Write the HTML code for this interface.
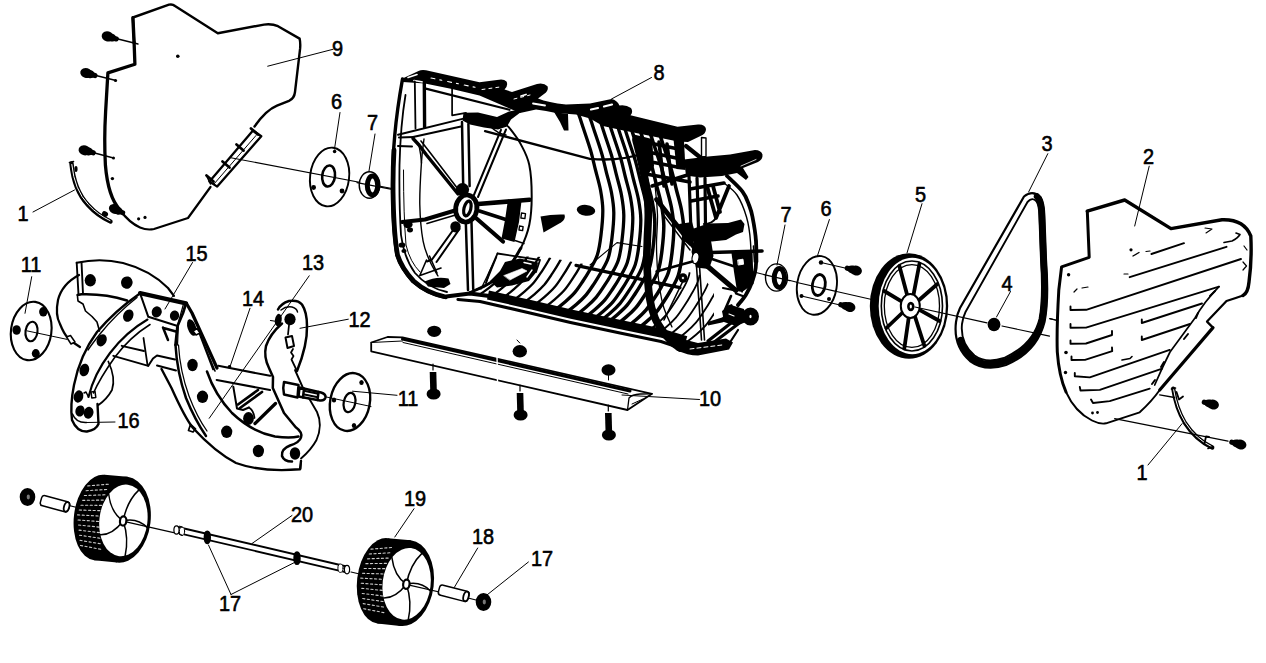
<!DOCTYPE html>
<html><head><meta charset="utf-8"><title>Parts diagram</title>
<style>
html,body{margin:0;padding:0;background:#fff;}
body{width:1266px;height:663px;overflow:hidden;}
svg{display:block;}
.t{font-family:"Liberation Sans",Arial,sans-serif;fill:#000;stroke:#000;stroke-width:0.6px;text-anchor:middle;}
</style></head><body>
<svg width="1266" height="663" viewBox="0 0 1266 663" stroke-linecap="round" stroke-linejoin="round">
<rect x="0" y="0" width="1266" height="663" fill="#fff"/>
<g id="p_left">
<path d="M134.1,42.4 L132.9,17.5 L169,4.7 Q172.5,3.8 175,6 L217.8,33.2 L264,24.6 Q272,23.6 278,26.2 L299.6,38.6 Q300.6,43 300.1,48.7 L295,92 Q294.3,98.5 289,100.8 L277,105.6 Q266,110 254.5,126.5" fill="none" stroke="#000" stroke-width="2.4" />
<path d="M132.9,17.8 L134.1,42.4" fill="none" stroke="#000" stroke-width="3.4" />
<path d="M210.5,187 L188,218 L154,229 Q147,230.5 140,227.5 Q129,222.5 120,210" fill="none" stroke="#000" stroke-width="2.2" />
<path d="M134.1,42.4 L134.9,64.2 L107.9,72.9 L105.6,112 Q104,140 105.4,165 Q108,197 120,210" fill="none" stroke="#000" stroke-width="3.3" />
<path d="M253,130.5 L261.3,136.2 L217.2,186.6 L209.5,181.5 Z" fill="none" stroke="#000" stroke-width="2.3" />
<path d="M256,135.5 L214,184" fill="none" stroke="#000" stroke-width="1.0" />
<line x1="251" y1="128.5" x2="258" y2="134.5" stroke="#000" stroke-width="2.8" />
<line x1="236.5" y1="144.5" x2="243.5" y2="150.5" stroke="#000" stroke-width="2.8" />
<line x1="222.5" y1="161.5" x2="229.5" y2="167.5" stroke="#000" stroke-width="2.8" />
<line x1="206.5" y1="175.5" x2="213.5" y2="181.5" stroke="#000" stroke-width="2.8" />
<line x1="206.5" y1="175.5" x2="210.5" y2="184" stroke="#000" stroke-width="1.6" />
<ellipse cx="107.6" cy="36.4" rx="6.0" ry="5.0" fill="#000" stroke="none" stroke-width="0" transform="rotate(16 107.6 36.4)"/>
<ellipse cx="111.44504678375327" cy="37.50254942326799" rx="4.75" ry="4.0" fill="#000" stroke="none" stroke-width="0" transform="rotate(16 111.44504678375327 37.50254942326799)"/>
<line x1="107.6" y1="36.4" x2="116.3" y2="38.9" stroke="#000" stroke-width="5.2"/>
<line x1="112" y1="37.5" x2="138" y2="44" stroke="#000" stroke-width="1.3" />
<ellipse cx="86.2" cy="73" rx="6.0" ry="5.0" fill="#000" stroke="none" stroke-width="0" transform="rotate(16 86.2 73)"/>
<ellipse cx="90.04504678375328" cy="74.102549423268" rx="4.75" ry="4.0" fill="#000" stroke="none" stroke-width="0" transform="rotate(16 90.04504678375328 74.102549423268)"/>
<line x1="86.2" y1="73.0" x2="94.9" y2="75.5" stroke="#000" stroke-width="5.2"/>
<line x1="90" y1="74" x2="116" y2="80.5" stroke="#000" stroke-width="1.3" />
<ellipse cx="115.5" cy="80.5" rx="1.6" ry="1.6" fill="#000" stroke="none" stroke-width="0"/>
<ellipse cx="84.5" cy="150.3" rx="6.0" ry="5.0" fill="#000" stroke="none" stroke-width="0" transform="rotate(16 84.5 150.3)"/>
<ellipse cx="88.34504678375328" cy="151.402549423268" rx="4.75" ry="4.0" fill="#000" stroke="none" stroke-width="0" transform="rotate(16 88.34504678375328 151.402549423268)"/>
<line x1="84.5" y1="150.3" x2="93.2" y2="152.8" stroke="#000" stroke-width="5.2"/>
<line x1="89" y1="151.5" x2="113.5" y2="158" stroke="#000" stroke-width="1.3" />
<ellipse cx="113.5" cy="158" rx="1.5" ry="1.5" fill="#000" stroke="none" stroke-width="0"/>
<ellipse cx="177.8" cy="56.2" rx="1.8" ry="1.8" fill="#000" stroke="none" stroke-width="0"/>
<ellipse cx="112.4" cy="178.6" rx="1.7" ry="1.7" fill="#000" stroke="none" stroke-width="0"/>
<ellipse cx="138.6" cy="218.8" rx="1.6" ry="1.6" fill="#000" stroke="none" stroke-width="0"/>
<ellipse cx="145" cy="217.4" rx="1.6" ry="1.6" fill="#000" stroke="none" stroke-width="0"/>
<ellipse cx="114.5" cy="209" rx="5.76" ry="4.8" fill="#000" stroke="none" stroke-width="0" transform="rotate(25 114.5 209)"/>
<ellipse cx="118.1252311481466" cy="210.6904730469628" rx="4.56" ry="3.84" fill="#000" stroke="none" stroke-width="0" transform="rotate(25 118.1252311481466 210.6904730469628)"/>
<line x1="114.5" y1="209.0" x2="122.7" y2="212.8" stroke="#000" stroke-width="5.0"/>
<path d="M71.5,163.5 Q74,190 88,205 Q98,216 110.5,221.5" fill="none" stroke="#000" stroke-width="4.4" />
<path d="M71.8,164.5 Q74.3,190 88.3,204.6 Q98,215 110,220.6" fill="none" stroke="#fff" stroke-width="1.0" />
<ellipse cx="105" cy="214" rx="3.2" ry="2.6" fill="#000" stroke="none" stroke-width="0" transform="rotate(30 105 214)"/>
<ellipse cx="76" cy="169" rx="1.6" ry="3" fill="#000" stroke="none" stroke-width="0"/>
<line x1="69.5" y1="162.5" x2="73.5" y2="161.5" stroke="#000" stroke-width="1.6" />
<line x1="33" y1="212" x2="74.5" y2="190" stroke="#000" stroke-width="1.0" />
<line x1="229.5" y1="157.5" x2="392" y2="188.5" stroke="#000" stroke-width="1.1" />
<ellipse cx="329.6" cy="177" rx="19.5" ry="29.5" fill="none" stroke="#000" stroke-width="1.9" transform="rotate(7 329.6 177)"/>
<ellipse cx="328.6" cy="176" rx="6.4" ry="10.6" fill="none" stroke="#000" stroke-width="2.6" transform="rotate(7 328.6 176)"/>
<ellipse cx="334.6" cy="151.5" rx="1.8" ry="1.8" fill="#000" stroke="none" stroke-width="0"/>
<ellipse cx="313.6" cy="187.5" rx="2.4" ry="2.4" fill="#000" stroke="none" stroke-width="0"/>
<ellipse cx="342" cy="191" rx="2.4" ry="2.4" fill="#000" stroke="none" stroke-width="0"/>
<ellipse cx="369.5" cy="185" rx="10.3" ry="13.2" fill="#fff" stroke="#000" stroke-width="1.4"/>
<ellipse cx="372.5" cy="185.5" rx="5.2" ry="9.4" fill="#fff" stroke="#000" stroke-width="5.0"/>
<line x1="357" y1="182.6" x2="392" y2="189.3" stroke="#000" stroke-width="1.2" />
<line x1="267.7" y1="66.2" x2="333" y2="49.3" stroke="#000" stroke-width="1.0" />
<line x1="340" y1="112.5" x2="334.5" y2="149" stroke="#000" stroke-width="1.0" />
<line x1="375" y1="134" x2="369" y2="171" stroke="#000" stroke-width="1.0" />
</g>
<g id="p_right">
<line x1="748" y1="270.5" x2="764" y2="274.5" stroke="#000" stroke-width="1.2" />
<line x1="790" y1="280.5" x2="798" y2="282.5" stroke="#000" stroke-width="1.2" />
<line x1="797" y1="282.5" x2="874" y2="300" stroke="#000" stroke-width="1.2" />
<line x1="1049.8" y1="318.7" x2="1057.5" y2="320.5" stroke="#000" stroke-width="1.2" />
<ellipse cx="776.5" cy="277.5" rx="11" ry="13.6" fill="#fff" stroke="#000" stroke-width="1.4"/>
<ellipse cx="779.4" cy="278" rx="5.2" ry="9.4" fill="#fff" stroke="#000" stroke-width="5.0"/>
<line x1="764" y1="274.6" x2="790" y2="280.6" stroke="#000" stroke-width="1.2" />
<ellipse cx="816.9" cy="285.4" rx="19.8" ry="29.6" fill="#fff" stroke="#000" stroke-width="1.9" transform="rotate(9 816.9 285.4)"/>
<ellipse cx="818.8" cy="285" rx="6.4" ry="10.6" fill="none" stroke="#000" stroke-width="2.8" transform="rotate(9 818.8 285)"/>
<ellipse cx="821" cy="262.5" rx="2.2" ry="2.2" fill="#000" stroke="none" stroke-width="0"/>
<ellipse cx="801.5" cy="296" rx="2.0" ry="2.0" fill="#000" stroke="none" stroke-width="0"/>
<ellipse cx="829" cy="299" rx="2.0" ry="2.0" fill="#000" stroke="none" stroke-width="0"/>
<line x1="797" y1="282.5" x2="836" y2="291.3" stroke="#000" stroke-width="1.2" />
<line x1="821" y1="262.5" x2="845" y2="268" stroke="#000" stroke-width="1.2" />
<line x1="801.5" y1="296" x2="840" y2="305" stroke="#000" stroke-width="1.2" />
<ellipse cx="856" cy="270.5" rx="6.0" ry="5.0" fill="#000" stroke="none" stroke-width="0" transform="rotate(195 856 270.5)"/>
<ellipse cx="852.1362966948437" cy="269.4647238195899" rx="4.75" ry="4.0" fill="#000" stroke="none" stroke-width="0" transform="rotate(195 852.1362966948437 269.4647238195899)"/>
<line x1="856.0" y1="270.5" x2="847.3" y2="268.2" stroke="#000" stroke-width="5.2"/>
<ellipse cx="849.5" cy="307" rx="6.0" ry="5.0" fill="#000" stroke="none" stroke-width="0" transform="rotate(195 849.5 307)"/>
<ellipse cx="845.6362966948437" cy="305.9647238195899" rx="4.75" ry="4.0" fill="#000" stroke="none" stroke-width="0" transform="rotate(195 845.6362966948437 305.9647238195899)"/>
<line x1="849.5" y1="307.0" x2="840.8" y2="304.7" stroke="#000" stroke-width="5.2"/>
<ellipse cx="909.0" cy="306" rx="39.2" ry="52.8" fill="#000" stroke="#000" stroke-width="0"/>
<ellipse cx="912.3" cy="306" rx="33.6" ry="48.2" fill="#fff" stroke="#000" stroke-width="0"/>
<ellipse cx="911.9" cy="306" rx="30.6" ry="45" fill="none" stroke="#000" stroke-width="1.6"/>
<ellipse cx="911.9" cy="306" rx="27.6" ry="41.4" fill="none" stroke="#000" stroke-width="1.3"/>
<line x1="918.6" y1="309.4" x2="939.6" y2="321.0" stroke="#000" stroke-width="3.8" />
<line x1="914.5" y1="315.1" x2="924.4" y2="345.9" stroke="#000" stroke-width="3.8" />
<line x1="909.0" y1="315.7" x2="904.3" y2="348.5" stroke="#000" stroke-width="3.8" />
<line x1="904.2" y1="311.0" x2="886.4" y2="328.0" stroke="#000" stroke-width="3.8" />
<line x1="903.6" y1="302.6" x2="884.2" y2="291.0" stroke="#000" stroke-width="3.8" />
<line x1="907.7" y1="296.9" x2="899.4" y2="266.1" stroke="#000" stroke-width="3.8" />
<line x1="913.2" y1="296.3" x2="919.5" y2="263.5" stroke="#000" stroke-width="3.8" />
<line x1="918.0" y1="301.0" x2="937.4" y2="284.0" stroke="#000" stroke-width="3.8" />
<ellipse cx="910.3" cy="306" rx="9.5" ry="12" fill="#fff" stroke="#000" stroke-width="2.0"/>
<ellipse cx="910.8" cy="306.5" rx="2.4" ry="3.4" fill="#fff" stroke="#000" stroke-width="2.6"/>
<path d="M1024,196.5 Q1032.5,189.5 1040.5,197 Q1044,203 1044.3,215 L1046,260 Q1049,300 1044.5,322 Q1037,352 1006,365 Q985,372 970,361 Q953,346 956,322 Q957,314 960,308 Z" fill="#fff" stroke="#000" stroke-width="2.2" />
<path d="M1027.5,202 Q1032.5,196.5 1036.5,201.5 Q1039,205 1039.3,215 L1041,260 Q1043.5,298 1039.5,319 Q1033,345 1004,358 Q986,364 974.5,355.5 Q960,343 962,324 Q963,317 965.5,312 Z" fill="#fff" stroke="#000" stroke-width="1.9" />
<path d="M1037,196.5 Q1041.5,201 1041.8,215 L1043.5,260 Q1046.3,299 1042,320.5 Q1035,348.5 1005,361.5 Q985.5,368 972.5,358.5 Q964,351 960.5,340" fill="none" stroke="#000" stroke-width="6.4" />
<line x1="915" y1="307" x2="987" y2="322.8" stroke="#000" stroke-width="1.2" />
<line x1="1002" y1="326" x2="1049.5" y2="336.2" stroke="#000" stroke-width="1.2" />
<ellipse cx="994" cy="324.5" rx="6.4" ry="6.8" fill="#000" stroke="none" stroke-width="0"/>
<line x1="1049.8" y1="318.7" x2="1057.5" y2="320.5" stroke="#000" stroke-width="1.2" />
<path d="M1087.3,211.2 L1124.7,200 L1171,228.6 L1222,219.8 Q1244,219 1250.8,236 Q1252,260 1249,282 Q1248,293 1243,295.5" fill="none" stroke="#000" stroke-width="3.4" />
<path d="M1087.3,211.2 L1089.2,257.3 L1061.6,266.8 L1058.8,290 Q1056.5,330 1057.3,352 Q1059,376 1066,392" fill="none" stroke="#000" stroke-width="3.0" />
<path d="M1066,392 Q1075,412 1092,420.5 Q1100,424.5 1106,423.3 L1139.7,412.3 Q1152,401 1159.7,390" fill="none" stroke="#000" stroke-width="1.9" />
<path d="M1243,295.5 Q1236,298 1226.5,301 L1207,321.6 L1213,327.6" fill="none" stroke="#000" stroke-width="2.2" />
<path d="M1213,327.6 L1159.7,390" fill="none" stroke="#000" stroke-width="3.2" />
<path d="M1154.7,385 Q1162,368 1170,352 L1195,318 Q1204,302 1219,286.6" fill="none" stroke="#000" stroke-width="1.7" />
<path d="M1070.5,306.5 L1070.5,310.0 L1086.2,309.8 L1241.0,259.0" fill="none" stroke="#000" stroke-width="1.9" />
<path d="M1070.5,324.0 L1070.5,327.8 L1086.0,327.6 L1219.0,286.6" fill="none" stroke="#000" stroke-width="1.9" />
<path d="M1070.5,340.5 L1070.5,343.8 L1086.0,343.5 L1112.0,335.0 L1112.0,331.0" fill="none" stroke="#000" stroke-width="1.9" />
<path d="M1071.5,356.5 L1071.5,360.0 L1085.0,359.9 L1112.2,351.2 L1112.0,347.5" fill="none" stroke="#000" stroke-width="1.9" />
<path d="M1074.8,373.0 L1074.8,376.3 L1089.8,377.4 L1169.7,349.9" fill="none" stroke="#000" stroke-width="1.9" />
<path d="M1079.8,387.0 L1080.5,390.5 L1099.8,389.9 L1162.2,368.6" fill="none" stroke="#000" stroke-width="1.9" />
<path d="M1091.0,399.5 L1093.0,403.0 L1109.7,401.1 L1149.7,388.6" fill="none" stroke="#000" stroke-width="1.9" />
<path d="M1141.8,319.5 L1141.8,323.0 L1202.0,303.5" fill="none" stroke="#000" stroke-width="1.9" />
<path d="M1141.8,336.5 L1141.8,340.0 L1190.0,324.0" fill="none" stroke="#000" stroke-width="1.9" />
<path d="M1129.7,277.2 L1226.5,246.8" fill="none" stroke="#000" stroke-width="1.9" />
<path d="M1151.4,254.0 L1184.0,243.2" fill="none" stroke="#000" stroke-width="1.9" />
<path d="M1224,242.5 L1232,241 Q1238,238 1240,234.5 L1236,233" fill="none" stroke="#000" stroke-width="1.6" />
<ellipse cx="1131" cy="249.8" rx="1.6" ry="1.6" fill="#000" stroke="none" stroke-width="0"/>
<ellipse cx="1068.6" cy="274.8" rx="1.7" ry="1.7" fill="#000" stroke="none" stroke-width="0"/>
<ellipse cx="1066" cy="352.5" rx="1.8" ry="1.8" fill="#000" stroke="none" stroke-width="0"/>
<ellipse cx="1065.5" cy="372.5" rx="1.7" ry="1.7" fill="#000" stroke="none" stroke-width="0"/>
<path d="M1133,256 L1139,252.5" fill="none" stroke="#000" stroke-width="1.4" />
<path d="M1146,251.5 L1150,251" fill="none" stroke="#000" stroke-width="1.2" />
<path d="M1124,274 L1128,274" fill="none" stroke="#000" stroke-width="1.2" />
<path d="M1205,228 L1212,229 L1206,233" fill="none" stroke="#000" stroke-width="1.1" />
<path d="M1244,246 L1247,250 M1243,262 L1246.5,266 L1243,270" fill="none" stroke="#000" stroke-width="1.2" />
<path d="M1074,292 L1077,289 M1082,288 L1088,287" fill="none" stroke="#000" stroke-width="1.2" />
<ellipse cx="1092.5" cy="413" rx="1.4" ry="1.4" fill="#000" stroke="none" stroke-width="0"/>
<ellipse cx="1097.5" cy="412.5" rx="1.4" ry="1.4" fill="#000" stroke="none" stroke-width="0"/>
<path d="M1122,360 L1130,358.5 L1132,356.5" fill="none" stroke="#000" stroke-width="1.6" />
<path d="M1210,296 L1215,291 M1196,318 L1198,313 M1184,339 L1188,334 M1161,367 L1164,362 M1152,384 L1155,380" fill="none" stroke="#000" stroke-width="2.0" />
<path d="M1173.2,388.5 Q1176,408 1185,423 Q1196,440 1212.3,447.5" fill="none" stroke="#000" stroke-width="4.2" />
<path d="M1173.6,389.5 Q1176.4,408 1185.3,422.6 Q1196,439.3 1211.6,446.6" fill="none" stroke="#fff" stroke-width="1.0" />
<line x1="1171.5" y1="389" x2="1175.5" y2="388" stroke="#000" stroke-width="1.6" />
<line x1="1208" y1="448.5" x2="1213" y2="446.5" stroke="#000" stroke-width="1.6" />
<path d="M1176.5,392 L1179,399.5 L1183,396.5" fill="none" stroke="#000" stroke-width="1.8" />
<path d="M1204.5,443.5 L1206,436.5 L1209,437" fill="none" stroke="#000" stroke-width="1.8" />
<ellipse cx="1213" cy="404.5" rx="6.0" ry="5.0" fill="#000" stroke="none" stroke-width="0" transform="rotate(195 1213 404.5)"/>
<ellipse cx="1209.1362966948436" cy="403.4647238195899" rx="4.75" ry="4.0" fill="#000" stroke="none" stroke-width="0" transform="rotate(195 1209.1362966948436 403.4647238195899)"/>
<line x1="1213.0" y1="404.5" x2="1204.3" y2="402.2" stroke="#000" stroke-width="5.2"/>
<ellipse cx="1240.5" cy="444.5" rx="6.0" ry="5.0" fill="#000" stroke="none" stroke-width="0" transform="rotate(195 1240.5 444.5)"/>
<ellipse cx="1236.6362966948436" cy="443.4647238195899" rx="4.75" ry="4.0" fill="#000" stroke="none" stroke-width="0" transform="rotate(195 1236.6362966948436 443.4647238195899)"/>
<line x1="1240.5" y1="444.5" x2="1231.8" y2="442.2" stroke="#000" stroke-width="5.2"/>
<line x1="1159.7" y1="394.8" x2="1174.6" y2="397.5" stroke="#000" stroke-width="1.3" />
<line x1="1114.7" y1="418.6" x2="1228" y2="441.2" stroke="#000" stroke-width="1.3" />
<line x1="785" y1="225" x2="777" y2="265" stroke="#000" stroke-width="1.0" />
<line x1="829.4" y1="219.5" x2="817.4" y2="256" stroke="#000" stroke-width="1.0" />
<line x1="922" y1="203.7" x2="907" y2="253" stroke="#000" stroke-width="1.0" />
<line x1="1047.8" y1="153.7" x2="1028.6" y2="192" stroke="#000" stroke-width="1.0" />
<line x1="1149.2" y1="166.2" x2="1134.7" y2="226" stroke="#000" stroke-width="1.0" />
<line x1="1010.5" y1="291.5" x2="996.5" y2="317" stroke="#000" stroke-width="1.0" />
<line x1="1148" y1="465" x2="1182.1" y2="423.6" stroke="#000" stroke-width="1.0" />
</g>
<g id="p_auger">
<ellipse cx="31.2" cy="331" rx="20.2" ry="29.4" fill="#fff" stroke="#000" stroke-width="2.12" transform="rotate(8 31.2 331)"/>
<ellipse cx="31.5" cy="331.5" rx="6.0" ry="9.8" fill="none" stroke="#000" stroke-width="2.12" transform="rotate(8 31.5 331.5)"/>
<ellipse cx="43.3" cy="311.8" rx="4.2" ry="4.8" fill="#000" stroke="none" stroke-width="0"/>
<ellipse cx="16.6" cy="330" rx="4.2" ry="4.8" fill="#000" stroke="none" stroke-width="0"/>
<ellipse cx="35.8" cy="353.5" rx="4" ry="4.4" fill="#000" stroke="none" stroke-width="0"/>
<line x1="26.7" y1="330.8" x2="66.7" y2="339.3" stroke="#000" stroke-width="1.0" />
<ellipse cx="350" cy="402" rx="19.8" ry="29.2" fill="#fff" stroke="#000" stroke-width="2.38" transform="rotate(11 350 402)"/>
<ellipse cx="349.5" cy="402.5" rx="5.8" ry="9.8" fill="none" stroke="#000" stroke-width="2.25" transform="rotate(11 349.5 402.5)"/>
<ellipse cx="361.5" cy="382.5" rx="2.2" ry="2.6" fill="#000" stroke="none" stroke-width="0"/>
<ellipse cx="334" cy="400" rx="2.2" ry="2.6" fill="#000" stroke="none" stroke-width="0"/>
<ellipse cx="354" cy="425.5" rx="2.2" ry="2.6" fill="#000" stroke="none" stroke-width="0"/>
<line x1="325" y1="396.7" x2="371" y2="406.5" stroke="#000" stroke-width="1.0" />
<path d="M79,275 Q62,284 58,300 Q55,315 60,324 Q64,334 68,338 L74,343 L80,347" fill="none" stroke="#000" stroke-width="2.25" />
<path d="M77.5,296.5 L78,301 L83,304 L85.5,311 L92,316.5 L97,322 L99.5,331" fill="none" stroke="#000" stroke-width="1.62" />
<path d="M66.5,337 l4,-1.5 l4.5,6.5 l-4,2 z" fill="#fff" stroke="#000" stroke-width="1.5" />
<path d="M76.7,262.8 Q100,257.5 123,263 Q150,270 168,288 L174,296" fill="none" stroke="#000" stroke-width="2.12" />
<path d="M76.7,262.8 L78.5,294.5 M81.5,262 L83,294" fill="none" stroke="#000" stroke-width="1.88" />
<path d="M77.5,295 L81.5,294.3 Q105,293.5 127,300.5" fill="none" stroke="#000" stroke-width="2.5" />
<ellipse cx="90.3" cy="280.3" rx="5.6" ry="6.2" fill="#000" stroke="none" stroke-width="0"/>
<ellipse cx="126.8" cy="282.6" rx="5.8" ry="6.2" fill="#000" stroke="none" stroke-width="0" transform="rotate(15 126.8 282.6)"/>
<path d="M140,293.2 L186,303.3" fill="none" stroke="#000" stroke-width="4.25" />
<path d="M140,293.2 L148.3,316.8 L176,325.5" fill="none" stroke="#000" stroke-width="2.0" />
<path d="M186,303.3 L183,313 L177.5,326 L175.5,345" fill="none" stroke="#000" stroke-width="2.75" />
<path d="M183.5,304 L178.5,322 L177.5,345" fill="none" stroke="#000" stroke-width="1.25" />
<ellipse cx="156.7" cy="311.9" rx="5" ry="5.6" fill="#000" stroke="none" stroke-width="0" transform="rotate(20 156.7 311.9)"/>
<ellipse cx="174.5" cy="315.6" rx="4.6" ry="5.2" fill="#000" stroke="none" stroke-width="0" transform="rotate(10 174.5 315.6)"/>
<path d="M163,327.5 L168,340 M163.5,328 L176,331.5" fill="none" stroke="#000" stroke-width="2.5" />
<path d="M138.5,294.5 Q116,310 97,332 Q80,355 74,385 Q70,405 72,420 Q77,432 87,431.5 Q96,430 98.5,424 L97.5,404" fill="none" stroke="#000" stroke-width="2.38" />
<path d="M137,297.5 Q116,314 100,334 Q92,344 88,350" fill="none" stroke="#000" stroke-width="1.38" />
<path d="M147.5,319.5 Q126,332 110,353 Q94,374 88.5,397" fill="none" stroke="#000" stroke-width="2.12" />
<path d="M150,324.5 Q130,337 115,357 Q100,378 93.5,393" fill="none" stroke="#000" stroke-width="1.62" />
<path d="M88.5,397 L86,392 L84,393" fill="none" stroke="#000" stroke-width="1.5" />
<path d="M91,392 l4,-0.6 l0.8,6 l-4,0.6z" fill="none" stroke="#000" stroke-width="1.5" />
<path d="M72.5,414 Q76,423 86.5,422.5" fill="none" stroke="#000" stroke-width="1.5" />
<ellipse cx="128.3" cy="315.6" rx="5" ry="6.4" fill="#000" stroke="none" stroke-width="0" transform="rotate(25 128.3 315.6)"/>
<ellipse cx="101.7" cy="340.3" rx="4.8" ry="6.4" fill="#000" stroke="none" stroke-width="0" transform="rotate(25 101.7 340.3)"/>
<ellipse cx="84.3" cy="370" rx="4.8" ry="6.4" fill="#000" stroke="none" stroke-width="0" transform="rotate(15 84.3 370)"/>
<ellipse cx="78.5" cy="396.5" rx="4.8" ry="6.2" fill="#000" stroke="none" stroke-width="0" transform="rotate(15 78.5 396.5)"/>
<ellipse cx="80" cy="411" rx="4.6" ry="5.6" fill="#000" stroke="none" stroke-width="0" transform="rotate(15 80 411)"/>
<ellipse cx="88.6" cy="412.8" rx="4.8" ry="6" fill="#000" stroke="none" stroke-width="0" transform="rotate(15 88.6 412.8)"/>
<path d="M108.3,361.5 Q116,378 112,390 Q107,399 98.5,405" fill="none" stroke="#000" stroke-width="1.75" />
<path d="M121.7,345.8 L144,351 M113.3,355.8 L148.3,365.8" fill="none" stroke="#000" stroke-width="1.88" />
<path d="M143.5,338 L147.5,365" fill="none" stroke="#000" stroke-width="1.75" />
<path d="M148.3,365.8 L153,358.5 L157,355.5 L175,359.5 M157,365.5 L176,370.5" fill="none" stroke="#000" stroke-width="2.0" />
<path d="M186.5,303.5 L192,313 L217,368" fill="none" stroke="#000" stroke-width="3.25" />
<path d="M175.5,345 Q177,372 186,398 Q195,420 206,436" fill="none" stroke="#000" stroke-width="2.5" />
<path d="M178.5,345 Q180,371 189,396 Q197,417 207,431" fill="none" stroke="#000" stroke-width="1.25" />
<path d="M161.5,369 L171.5,388 Q185,418 193,428 Q215,452 236,463 Q262,472.5 300,469.3 L301,461" fill="none" stroke="#000" stroke-width="2.38" />
<path d="M190.5,424.5 l5,4.5 l-2.5,3 l-4.5,-1.5z" fill="none" stroke="#000" stroke-width="1.75" />
<path d="M198,330 L213,369.5 M201,337 L215,371" fill="none" stroke="#000" stroke-width="1.62" />
<path d="M207,371.5 Q215,395 232,413 Q252,432 275,436.5 Q290,438.5 298.5,436.5" fill="none" stroke="#000" stroke-width="2.5" />
<ellipse cx="191.8" cy="327.5" rx="4.2" ry="8.6" fill="#000" stroke="none" stroke-width="0" transform="rotate(-18 191.8 327.5)"/>
<path d="M193,331 l4,-2.5 l3,4.5 l-4,2z" fill="#fff" stroke="#000" stroke-width="1.5" />
<ellipse cx="192.5" cy="365" rx="5.2" ry="6.2" fill="#000" stroke="none" stroke-width="0"/>
<ellipse cx="202.5" cy="396.8" rx="5.6" ry="6.2" fill="#000" stroke="none" stroke-width="0"/>
<ellipse cx="226.7" cy="431.8" rx="5.6" ry="6.2" fill="#000" stroke="none" stroke-width="0"/>
<ellipse cx="258.4" cy="451" rx="5.6" ry="6.2" fill="#000" stroke="none" stroke-width="0"/>
<ellipse cx="295" cy="453.5" rx="5.2" ry="6.2" fill="#000" stroke="none" stroke-width="0"/>
<ellipse cx="248.5" cy="418.5" rx="5.4" ry="6.4" fill="#000" stroke="none" stroke-width="0"/>
<path d="M218.3,365.8 L270,375.8 M216.7,380 L270,390" fill="none" stroke="#000" stroke-width="2.12" />
<ellipse cx="229.5" cy="366.8" rx="1.8" ry="1.8" fill="#000" stroke="none" stroke-width="0"/>
<path d="M233.3,386.7 L237,408.5 L243,410 L249,407.5" fill="none" stroke="#000" stroke-width="2.0" />
<path d="M238,404.5 L258,390 M240,408 L262,392" fill="none" stroke="#000" stroke-width="2.75" />
<path d="M249,407.5 Q254,411 254.5,418" fill="none" stroke="#000" stroke-width="1.75" />
<path d="M255,423.5 L275.5,403.5" fill="none" stroke="#000" stroke-width="3.25" />
<path d="M278,309.5 Q281,303.5 289,301 Q298,299.5 302,304.5 Q307,312 307,326 Q307.5,345 297,371" fill="none" stroke="#000" stroke-width="2.5" />
<path d="M281,310 Q286,306 292,307 Q297,308.5 297.5,312" fill="none" stroke="#000" stroke-width="1.5" />
<path d="M282,323.5 Q270,334 266,346 Q263.5,357 269,368 L273,377 L272.8,388 L284,413 L295.5,427 Q303,432.5 301,437.5 Q299.5,442.5 290,445.5 Q281,449 282,456 Q284,461.5 292,461.5" fill="none" stroke="#000" stroke-width="2.5" />
<path d="M295,370 L303,388 L317,412 Q323,425 316.5,440 Q311,450 301,458.5" fill="none" stroke="#000" stroke-width="1.88" />
<path d="M289,325 L288,334.5 M293,349 L291,352.5 L293.5,356 L291.5,359.5 L296.5,370" fill="none" stroke="#000" stroke-width="1.75" />
<path d="M285.5,337.5 l6.5,-1.5 l2,10 l-6.5,2z" fill="#fff" stroke="#000" stroke-width="2.0" />
<ellipse cx="278.3" cy="320" rx="3.4" ry="6.2" fill="#000" stroke="none" stroke-width="0" transform="rotate(10 278.3 320)"/>
<ellipse cx="290" cy="319.3" rx="5.6" ry="6" fill="#000" stroke="none" stroke-width="0"/>
<line x1="270.5" y1="320.5" x2="277" y2="321.5" stroke="#000" stroke-width="1.2" />
<path d="M301,461 L300.5,469" fill="none" stroke="#000" stroke-width="1.75" />
<path d="M284,382 Q282.5,388 284,394.5 L297.5,397.5 L298.5,385 Z" fill="#fff" stroke="#000" stroke-width="2.5" />
<path d="M299.5,387.5 L321,392.5 Q326,394 325.5,397.5 Q324.5,401 320,400.5 L298.5,396.5 Z" fill="#fff" stroke="#000" stroke-width="2.5" />
<path d="M304,388.5 L303,397.5 M318.5,392 L317.5,400" fill="none" stroke="#000" stroke-width="2.5" />
<path d="M305,391 L317,393.6 M304.5,394.5 L316.5,397" fill="none" stroke="#000" stroke-width="2.0" />
<line x1="31.7" y1="276.7" x2="25" y2="313.3" stroke="#000" stroke-width="1.0" />
<line x1="192.5" y1="262.5" x2="165" y2="309" stroke="#000" stroke-width="1.0" />
<line x1="309.2" y1="275.8" x2="209.2" y2="418.3" stroke="#000" stroke-width="1.0" />
<line x1="250" y1="308.3" x2="230" y2="366.7" stroke="#000" stroke-width="1.0" />
<line x1="300" y1="328.3" x2="348.3" y2="319.2" stroke="#000" stroke-width="1.0" />
<line x1="86.7" y1="422.5" x2="115" y2="422" stroke="#000" stroke-width="1.0" />
</g>
<g id="p_bar">
<path d="M371.2,342.5 L387.5,337 L402.5,337.3 L652,393.8 L627.5,410 L371.2,351.3 Z" fill="#fff" stroke="#000" stroke-width="1.8" />
<path d="M402.5,339 L630,391" fill="none" stroke="#000" stroke-width="3.0" />
<path d="M403,342.5 L628,394" fill="none" stroke="#000" stroke-width="1.0" />
<path d="M371.2,342.5 L402.5,341" fill="none" stroke="#000" stroke-width="1.0" />
<path d="M627.5,410 L629,398 Q632,394.5 640,394 L652,393.8" fill="none" stroke="#000" stroke-width="1.3" />
<path d="M632,404 L643,399" fill="none" stroke="#000" stroke-width="1.0" />
<path d="M497,355 L497.5,383" fill="none" stroke="#fff" stroke-width="1.4" />
<ellipse cx="434.2" cy="331.3" rx="7" ry="5.6" fill="#000" stroke="none" stroke-width="0"/>
<ellipse cx="519.8" cy="351.3" rx="7.2" ry="6.2" fill="#000" stroke="none" stroke-width="0"/>
<ellipse cx="608.5" cy="370" rx="7" ry="5.8" fill="#000" stroke="none" stroke-width="0"/>
<line x1="608.5" y1="372" x2="608.5" y2="380" stroke="#000" stroke-width="1.0" />
<line x1="519.8" y1="343" x2="517" y2="340" stroke="#000" stroke-width="1.0" />
<line x1="433" y1="364" x2="433" y2="370" stroke="#000" stroke-width="1.2" />
<line x1="433" y1="372" x2="433.5" y2="390" stroke="#000" stroke-width="6.6" stroke-linecap="butt"/>
<ellipse cx="433.6" cy="394" rx="7.0" ry="5.6" fill="#000" stroke="none" stroke-width="0"/>
<line x1="520" y1="385" x2="520" y2="391" stroke="#000" stroke-width="1.2" />
<line x1="520" y1="393" x2="520.5" y2="411" stroke="#000" stroke-width="6.6" stroke-linecap="butt"/>
<ellipse cx="520.6" cy="415" rx="7.0" ry="5.6" fill="#000" stroke="none" stroke-width="0"/>
<line x1="608.3" y1="405" x2="608.3" y2="411" stroke="#000" stroke-width="1.2" />
<line x1="608.3" y1="413" x2="608.8" y2="431" stroke="#000" stroke-width="6.6" stroke-linecap="butt"/>
<ellipse cx="608.9" cy="435" rx="7.0" ry="5.6" fill="#000" stroke="none" stroke-width="0"/>
<line x1="622" y1="395" x2="699.5" y2="399.5" stroke="#000" stroke-width="1.0" />
<line x1="352.5" y1="391.2" x2="397" y2="395.3" stroke="#000" stroke-width="1.0" />
</g>
<g id="p_wheels">
<line x1="67" y1="505" x2="99" y2="513" stroke="#000" stroke-width="1.2" />
<line x1="351" y1="572" x2="381" y2="579" stroke="#000" stroke-width="1.2" />
<line x1="468" y1="598" x2="478" y2="600.5" stroke="#000" stroke-width="1.2" />
<ellipse cx="27.5" cy="497" rx="6" ry="7.2" fill="#000" stroke="#000" stroke-width="3.6"/>
<ellipse cx="28.3" cy="497" rx="1.3" ry="2" fill="#000" stroke="none" stroke-width="0"/>
<ellipse cx="28.3" cy="497" rx="1.6" ry="2.4" fill="#777"/>
<g transform="translate(41,500) rotate(15.0)"><rect x="0" y="-5.25" width="29.0" height="10.5" rx="3" fill="#fff" stroke="#000" stroke-width="1.5"/><ellipse cx="26.5" cy="0" rx="2.6" ry="4.95" fill="#fff" stroke="#000" stroke-width="1.8"/></g>
<g transform="rotate(7 123.6 521.5)">
<ellipse cx="99.1" cy="520.5" rx="25.5" ry="43" fill="#000" stroke="#000" stroke-width="0"/>
<ellipse cx="122.0" cy="519.9" rx="28.4" ry="43.2" fill="#000" stroke="#000" stroke-width="0"/>
<path d="M99.1,477.5 L122.0,476.7 L122.0,563.1 L99.1,563.5 Z" fill="#000" stroke="none" />
<ellipse cx="123.3" cy="520.5" rx="24.0" ry="36.0" fill="#fff" stroke="#000" stroke-width="0"/>
<line x1="83.7" y1="490.5" x2="105.7" y2="486.0" stroke="#fff" stroke-width="1.1" stroke-dasharray="2.2 2.4" opacity="0.8"/>
<line x1="82.6" y1="495.5" x2="104.6" y2="491.5" stroke="#fff" stroke-width="1.1" stroke-dasharray="2.2 2.4" opacity="0.8"/>
<line x1="81.5" y1="500.5" x2="103.5" y2="497.0" stroke="#fff" stroke-width="1.1" stroke-dasharray="2.2 2.4" opacity="0.8"/>
<line x1="80.4" y1="505.5" x2="102.4" y2="502.5" stroke="#fff" stroke-width="1.1" stroke-dasharray="2.2 2.4" opacity="0.8"/>
<line x1="79.3" y1="510.5" x2="101.3" y2="508.0" stroke="#fff" stroke-width="1.1" stroke-dasharray="2.2 2.4" opacity="0.8"/>
<line x1="78.2" y1="515.5" x2="100.2" y2="513.5" stroke="#fff" stroke-width="1.1" stroke-dasharray="2.2 2.4" opacity="0.8"/>
<line x1="77.1" y1="520.5" x2="99.1" y2="519.0" stroke="#fff" stroke-width="1.1" stroke-dasharray="2.2 2.4" opacity="0.8"/>
<line x1="78.2" y1="525.5" x2="100.2" y2="524.5" stroke="#fff" stroke-width="1.1" stroke-dasharray="2.2 2.4" opacity="0.8"/>
<line x1="79.3" y1="530.5" x2="101.3" y2="530.0" stroke="#fff" stroke-width="1.1" stroke-dasharray="2.2 2.4" opacity="0.8"/>
<line x1="80.4" y1="535.5" x2="102.4" y2="535.5" stroke="#fff" stroke-width="1.1" stroke-dasharray="2.2 2.4" opacity="0.8"/>
<line x1="81.5" y1="540.5" x2="103.5" y2="541.0" stroke="#fff" stroke-width="1.1" stroke-dasharray="2.2 2.4" opacity="0.8"/>
<line x1="82.6" y1="545.5" x2="104.6" y2="546.5" stroke="#fff" stroke-width="1.1" stroke-dasharray="2.2 2.4" opacity="0.8"/>
<line x1="83.7" y1="550.5" x2="105.7" y2="552.0" stroke="#fff" stroke-width="1.1" stroke-dasharray="2.2 2.4" opacity="0.8"/>
<path d="M123.1,521.0 Q124.3,501.1 135.0,488.2" fill="none" stroke="#000" stroke-width="1.5" />
<path d="M123.1,521.0 Q136.6,515.8 148.2,524.9" fill="none" stroke="#000" stroke-width="1.5" />
<path d="M123.1,521.0 Q131.1,537.4 129.3,555.8" fill="none" stroke="#000" stroke-width="1.5" />
<path d="M123.1,521.0 Q114.1,536.3 102.1,537.5" fill="none" stroke="#000" stroke-width="1.5" />
<path d="M123.1,521.0 Q109.9,514.2 105.5,496.3" fill="none" stroke="#000" stroke-width="1.5" />
<ellipse cx="123.1" cy="521.0" rx="3.2" ry="4.6" fill="#fff" stroke="#000" stroke-width="2.2"/>
</g>
<line x1="126.1" y1="521.8" x2="173.6" y2="532.7" stroke="#000" stroke-width="1.2" />
<path d="M176,529.5 L347,569.5" fill="none" stroke="#000" stroke-width="7.6" stroke-linecap="butt"/>
<path d="M177,529.8 L346,569.3" fill="none" stroke="#fff" stroke-width="3.8" stroke-linecap="butt"/>
<ellipse cx="176.5" cy="530" rx="2.6" ry="4.2" fill="#fff" stroke="#000" stroke-width="1.2"/>
<ellipse cx="182" cy="531.3" rx="2.6" ry="4.2" fill="#fff" stroke="#000" stroke-width="1.0"/>
<ellipse cx="347" cy="569.6" rx="2.6" ry="4.2" fill="#fff" stroke="#000" stroke-width="1.2"/>
<ellipse cx="340.5" cy="568.2" rx="2.6" ry="4.2" fill="#fff" stroke="#000" stroke-width="1.0"/>
<path d="M179.5,526.2 L182,526.8 M179.5,534.5 L182,535" fill="none" stroke="#000" stroke-width="1.0" />
<ellipse cx="207.3" cy="537.3" rx="2.4" ry="5.6" fill="#000" stroke="#000" stroke-width="2.6"/>
<ellipse cx="297" cy="558.2" rx="2.4" ry="5.6" fill="#000" stroke="#000" stroke-width="2.6"/>
<g transform="rotate(7 406.8 584.8)">
<ellipse cx="382.3" cy="583.8" rx="25.5" ry="43" fill="#000" stroke="#000" stroke-width="0"/>
<ellipse cx="405.2" cy="583.1999999999999" rx="28.4" ry="43.2" fill="#000" stroke="#000" stroke-width="0"/>
<path d="M382.3,540.8 L405.2,539.9999999999999 L405.2,626.4 L382.3,626.8 Z" fill="#000" stroke="none" />
<ellipse cx="406.5" cy="583.8" rx="24.0" ry="36.0" fill="#fff" stroke="#000" stroke-width="0"/>
<line x1="366.9" y1="553.8" x2="388.9" y2="549.3" stroke="#fff" stroke-width="1.1" stroke-dasharray="2.2 2.4" opacity="0.8"/>
<line x1="365.8" y1="558.8" x2="387.8" y2="554.8" stroke="#fff" stroke-width="1.1" stroke-dasharray="2.2 2.4" opacity="0.8"/>
<line x1="364.7" y1="563.8" x2="386.7" y2="560.3" stroke="#fff" stroke-width="1.1" stroke-dasharray="2.2 2.4" opacity="0.8"/>
<line x1="363.6" y1="568.8" x2="385.6" y2="565.8" stroke="#fff" stroke-width="1.1" stroke-dasharray="2.2 2.4" opacity="0.8"/>
<line x1="362.5" y1="573.8" x2="384.5" y2="571.3" stroke="#fff" stroke-width="1.1" stroke-dasharray="2.2 2.4" opacity="0.8"/>
<line x1="361.4" y1="578.8" x2="383.4" y2="576.8" stroke="#fff" stroke-width="1.1" stroke-dasharray="2.2 2.4" opacity="0.8"/>
<line x1="360.3" y1="583.8" x2="382.3" y2="582.3" stroke="#fff" stroke-width="1.1" stroke-dasharray="2.2 2.4" opacity="0.8"/>
<line x1="361.4" y1="588.8" x2="383.4" y2="587.8" stroke="#fff" stroke-width="1.1" stroke-dasharray="2.2 2.4" opacity="0.8"/>
<line x1="362.5" y1="593.8" x2="384.5" y2="593.3" stroke="#fff" stroke-width="1.1" stroke-dasharray="2.2 2.4" opacity="0.8"/>
<line x1="363.6" y1="598.8" x2="385.6" y2="598.8" stroke="#fff" stroke-width="1.1" stroke-dasharray="2.2 2.4" opacity="0.8"/>
<line x1="364.7" y1="603.8" x2="386.7" y2="604.3" stroke="#fff" stroke-width="1.1" stroke-dasharray="2.2 2.4" opacity="0.8"/>
<line x1="365.8" y1="608.8" x2="387.8" y2="609.8" stroke="#fff" stroke-width="1.1" stroke-dasharray="2.2 2.4" opacity="0.8"/>
<line x1="366.9" y1="613.8" x2="388.9" y2="615.3" stroke="#fff" stroke-width="1.1" stroke-dasharray="2.2 2.4" opacity="0.8"/>
<path d="M406.3,584.3 Q407.5,564.4 418.2,551.5" fill="none" stroke="#000" stroke-width="1.5" />
<path d="M406.3,584.3 Q419.8,579.1 431.4,588.2" fill="none" stroke="#000" stroke-width="1.5" />
<path d="M406.3,584.3 Q414.3,600.7 412.5,619.1" fill="none" stroke="#000" stroke-width="1.5" />
<path d="M406.3,584.3 Q397.3,599.6 385.3,600.8" fill="none" stroke="#000" stroke-width="1.5" />
<path d="M406.3,584.3 Q393.1,577.5 388.7,559.6" fill="none" stroke="#000" stroke-width="1.5" />
<ellipse cx="406.3" cy="584.3" rx="3.2" ry="4.6" fill="#fff" stroke="#000" stroke-width="2.2"/>
</g>
<line x1="409.3" y1="585.0999999999999" x2="456.8" y2="596.0" stroke="#000" stroke-width="1.2" />
<g transform="translate(439,589.5) rotate(14.3)"><rect x="0" y="-5.25" width="30.4" height="10.5" rx="3" fill="#fff" stroke="#000" stroke-width="1.5"/><ellipse cx="27.9" cy="0" rx="2.6" ry="4.95" fill="#fff" stroke="#000" stroke-width="1.8"/></g>
<ellipse cx="483.5" cy="602" rx="6" ry="7.2" fill="#000" stroke="#000" stroke-width="3.6"/>
<ellipse cx="484.3" cy="602" rx="1.6" ry="2.4" fill="#777"/>
<line x1="292" y1="515.5" x2="252" y2="543.5" stroke="#000" stroke-width="1.0" />
<line x1="231" y1="594.5" x2="208.5" y2="545" stroke="#000" stroke-width="1.0" />
<line x1="231" y1="594.5" x2="294.5" y2="562.5" stroke="#000" stroke-width="1.0" />
<line x1="414" y1="508.7" x2="394.8" y2="537" stroke="#000" stroke-width="1.0" />
<line x1="477.7" y1="548" x2="454.3" y2="587.4" stroke="#000" stroke-width="1.0" />
<line x1="528.4" y1="562" x2="487.2" y2="594.8" stroke="#000" stroke-width="1.0" />
</g>
<g id="p_housing">
<defs><clipPath id="cRibU"><path d="M560,100 L720,100 L720,360 L470,360 L470,252 L546,256 L592,264 L640,276 L640,150 L560,128 Z"/></clipPath><clipPath id="cRibL"><path d="M470,255 L546,257 L600,267 L690,289 L720,300 L720,356 L690,346 L661,333 L620,324.5 L570.5,314 L530,304.5 L480,293 Z"/></clipPath><clipPath id="cRibTop"><path d="M566,108 L600,114 L660,136 L700,150 L700,300 L690,345 L661,333 L620,324.5 L570.5,314 L545,308 L545,262 L572,262 Z"/></clipPath><clipPath id="cRibR"><path d="M650,262 L700,275 L714,290 L714,318 L703,344 L680,346 L650,330 Z"/></clipPath></defs>
<g clip-path="url(#cRibL)">
<path d="M505.1,90.2 C505.7,91.8 507.6,97.3 508.6,100.2 C509.6,103.0 509.1,101.8 510.9,107.2 C512.6,112.5 516.9,124.7 519.1,132.2 C521.3,139.7 522.4,145.5 524.1,152.2 C525.8,158.8 527.9,165.5 529.1,172.2 C530.3,178.8 531.3,184.5 531.4,192.0 C531.5,199.5 530.5,209.6 529.6,217.2 C528.7,224.7 527.8,231.3 525.9,237.2 C524.0,243.0 520.8,247.8 518.4,252.2 C516.0,256.5 514.1,259.4 511.6,263.1 C509.1,266.9 506.5,271.0 503.5,274.5 C500.5,278.0 496.9,281.2 493.6,284.1 C490.3,287.0 486.9,289.6 483.6,291.9 C480.3,294.3 475.3,297.1 473.6,298.1" fill="none" stroke="#000" stroke-width="2.3" />
<path d="M515.3,92.7 C515.9,94.4 517.8,99.9 518.8,102.7 C519.8,105.5 519.3,104.4 521.1,109.7 C522.8,115.0 527.1,127.2 529.3,134.7 C531.5,142.2 532.6,148.0 534.3,154.7 C536.0,161.4 538.1,168.1 539.3,174.7 C540.5,181.3 541.5,187.0 541.6,194.5 C541.7,202.0 540.7,212.2 539.8,219.7 C538.9,227.2 538.0,233.9 536.1,239.7 C534.2,245.5 531.0,250.4 528.6,254.7 C526.2,259.0 524.3,262.0 521.8,265.7 C519.3,269.4 516.7,273.6 513.7,277.1 C510.7,280.6 507.1,283.8 503.8,286.7 C500.5,289.6 497.1,292.2 493.8,294.5 C490.5,296.8 485.5,299.7 483.8,300.7" fill="none" stroke="#000" stroke-width="2.3" />
<path d="M525.5,95.2 C526.1,96.9 528.0,102.4 529.0,105.2 C530.0,108.1 529.5,106.9 531.3,112.2 C533.0,117.6 537.3,129.8 539.5,137.2 C541.7,144.8 542.8,150.6 544.5,157.2 C546.2,163.9 548.3,170.6 549.5,177.2 C550.7,183.9 551.7,189.6 551.8,197.1 C551.9,204.6 550.9,214.7 550.0,222.2 C549.1,229.8 548.2,236.4 546.3,242.2 C544.4,248.1 541.2,252.9 538.8,257.2 C536.4,261.6 534.5,264.5 532.0,268.2 C529.5,272.0 526.9,276.1 523.9,279.6 C520.9,283.1 517.3,286.4 514.0,289.2 C510.7,292.1 507.3,294.7 504.0,297.1 C500.7,299.4 495.7,302.2 494.0,303.2" fill="none" stroke="#000" stroke-width="2.3" />
<path d="M535.7,97.8 C536.3,99.5 538.2,105.0 539.2,107.8 C540.2,110.6 539.8,109.5 541.5,114.8 C543.2,120.1 547.5,132.3 549.7,139.8 C551.9,147.3 553.0,153.1 554.7,159.8 C556.4,166.5 558.5,173.2 559.7,179.8 C560.9,186.4 561.9,192.1 562.0,199.6 C562.1,207.1 561.1,217.3 560.2,224.8 C559.3,232.3 558.4,239.0 556.5,244.8 C554.6,250.6 551.4,255.5 549.0,259.8 C546.6,264.1 544.7,267.1 542.2,270.8 C539.7,274.5 537.1,278.7 534.1,282.2 C531.1,285.7 527.5,288.9 524.2,291.8 C520.9,294.7 517.5,297.3 514.2,299.6 C510.9,301.9 505.9,304.8 504.2,305.8" fill="none" stroke="#000" stroke-width="2.3" />
<path d="M545.9,100.3 C546.5,102.0 548.4,107.5 549.4,110.3 C550.4,113.2 549.9,112.0 551.7,117.3 C553.4,122.7 557.7,134.8 559.9,142.3 C562.1,149.8 563.2,155.7 564.9,162.3 C566.6,169.0 568.7,175.7 569.9,182.3 C571.1,189.0 572.1,194.7 572.2,202.2 C572.3,209.7 571.3,219.8 570.4,227.3 C569.5,234.9 568.6,241.5 566.7,247.3 C564.8,253.2 561.6,258.0 559.2,262.4 C556.8,266.7 554.9,269.6 552.4,273.4 C549.9,277.1 547.3,281.2 544.3,284.8 C541.3,288.2 537.7,291.5 534.4,294.4 C531.1,297.2 527.7,299.8 524.4,302.2 C521.1,304.5 516.1,307.3 514.4,308.4" fill="none" stroke="#000" stroke-width="2.3" />
<path d="M556.1,102.9 C556.7,104.6 558.6,110.1 559.6,112.9 C560.6,115.7 560.1,114.6 561.9,119.9 C563.6,125.2 567.9,137.4 570.1,144.9 C572.3,152.4 573.4,158.2 575.1,164.9 C576.8,171.6 578.9,178.3 580.1,184.9 C581.3,191.5 582.3,197.2 582.4,204.7 C582.5,212.2 581.5,222.4 580.6,229.9 C579.7,237.4 578.8,244.1 576.9,249.9 C575.0,255.7 571.8,260.6 569.4,264.9 C567.0,269.2 565.1,272.2 562.6,275.9 C560.1,279.6 557.5,283.8 554.5,287.3 C551.5,290.8 547.9,294.0 544.6,296.9 C541.3,299.8 537.9,302.4 534.6,304.7 C531.3,307.0 526.3,309.9 524.6,310.9" fill="none" stroke="#000" stroke-width="2.3" />
<path d="M566.3,105.5 C566.9,107.1 568.8,112.6 569.8,115.5 C570.8,118.3 570.3,117.1 572.1,122.5 C573.8,127.8 578.1,139.9 580.3,147.4 C582.5,154.9 583.6,160.8 585.3,167.4 C587.0,174.1 589.1,180.8 590.3,187.4 C591.5,194.1 592.5,199.8 592.6,207.2 C592.7,214.8 591.7,224.9 590.8,232.4 C589.9,240.0 589.0,246.6 587.1,252.4 C585.2,258.3 582.0,263.1 579.6,267.4 C577.2,271.8 575.3,274.7 572.8,278.4 C570.3,282.2 567.7,286.3 564.7,289.8 C561.7,293.3 558.1,296.5 554.8,299.4 C551.5,302.4 548.1,304.9 544.8,307.2 C541.5,309.6 536.5,312.4 534.8,313.4" fill="none" stroke="#000" stroke-width="2.3" />
</g>
<g clip-path="url(#cRibTop)">
<path d="M576.5,108.0 C577.1,109.7 579.0,115.2 580.0,118.0 C581.0,120.8 580.5,119.7 582.3,125.0 C584.0,130.3 588.3,142.5 590.5,150.0 C592.7,157.5 593.8,163.3 595.5,170.0 C597.2,176.7 599.3,183.4 600.5,190.0 C601.7,196.6 602.7,202.3 602.8,209.8 C602.9,217.3 601.9,227.5 601.0,235.0 C600.1,242.5 599.2,249.2 597.3,255.0 C595.4,260.8 592.2,265.7 589.8,270.0 C587.4,274.3 585.5,277.3 583.0,281.0 C580.5,284.7 577.9,288.9 574.9,292.4 C571.9,295.9 568.3,299.1 565.0,302.0 C561.7,304.9 558.3,307.5 555.0,309.8 C551.7,312.1 546.7,315.0 545.0,316.0" fill="none" stroke="#000" stroke-width="3.3" />
<path d="M587.5,110.8 C588.1,112.4 590.0,117.9 591.0,120.8 C592.0,123.6 591.5,122.4 593.3,127.8 C595.0,133.1 599.3,145.2 601.5,152.8 C603.7,160.2 604.8,166.1 606.5,172.8 C608.2,179.4 610.3,186.1 611.5,192.8 C612.7,199.4 613.7,205.1 613.8,212.6 C613.9,220.1 612.9,230.2 612.0,237.8 C611.1,245.3 610.2,251.9 608.3,257.8 C606.4,263.6 603.2,268.4 600.8,272.8 C598.4,277.1 596.5,280.0 594.0,283.8 C591.5,287.5 588.9,291.6 585.9,295.1 C582.9,298.6 579.3,301.9 576.0,304.8 C572.7,307.6 569.3,310.2 566.0,312.6 C562.7,314.9 557.7,317.7 556.0,318.8" fill="none" stroke="#000" stroke-width="3.3" />
<path d="M597.5,113.2 C598.1,114.9 600.0,120.4 601.0,123.2 C602.0,126.1 601.5,124.9 603.3,130.2 C605.0,135.6 609.3,147.8 611.5,155.2 C613.7,162.8 614.8,168.6 616.5,175.2 C618.2,181.9 620.3,188.6 621.5,195.2 C622.7,201.9 623.7,207.6 623.8,215.1 C623.9,222.6 622.9,232.7 622.0,240.2 C621.1,247.8 620.2,254.4 618.3,260.2 C616.4,266.1 613.2,270.9 610.8,275.2 C608.4,279.6 606.5,282.5 604.0,286.2 C601.5,290.0 598.9,294.1 595.9,297.6 C592.9,301.1 589.3,304.4 586.0,307.2 C582.7,310.1 579.3,312.7 576.0,315.1 C572.7,317.4 567.7,320.2 566.0,321.2" fill="none" stroke="#000" stroke-width="3.3" />
<path d="M606.5,115.5 C607.1,117.2 609.0,122.7 610.0,125.5 C611.0,128.3 610.5,127.2 612.3,132.5 C614.0,137.8 618.3,150.0 620.5,157.5 C622.7,165.0 623.8,170.8 625.5,177.5 C627.2,184.2 629.3,190.9 630.5,197.5 C631.7,204.1 632.7,209.8 632.8,217.3 C632.9,224.8 631.9,235.0 631.0,242.5 C630.1,250.0 629.2,256.7 627.3,262.5 C625.4,268.3 622.2,273.2 619.8,277.5 C617.4,281.8 615.5,284.8 613.0,288.5 C610.5,292.2 607.9,296.4 604.9,299.9 C601.9,303.4 598.3,306.6 595.0,309.5 C591.7,312.4 588.3,315.0 585.0,317.3 C581.7,319.6 576.7,322.5 575.0,323.5" fill="none" stroke="#000" stroke-width="3.3" />
<path d="M614.5,117.5 C615.1,119.2 617.0,124.7 618.0,127.5 C619.0,130.3 618.5,129.2 620.3,134.5 C622.0,139.8 626.3,152.0 628.5,159.5 C630.7,167.0 631.8,172.8 633.5,179.5 C635.2,186.2 637.3,192.9 638.5,199.5 C639.7,206.1 640.7,211.8 640.8,219.3 C640.9,226.8 639.9,237.0 639.0,244.5 C638.1,252.0 637.2,258.7 635.3,264.5 C633.4,270.3 630.2,275.2 627.8,279.5 C625.4,283.8 623.5,286.8 621.0,290.5 C618.5,294.2 615.9,298.4 612.9,301.9 C609.9,305.4 606.3,308.6 603.0,311.5 C599.7,314.4 596.3,317.0 593.0,319.3 C589.7,321.6 584.7,324.5 583.0,325.5" fill="none" stroke="#000" stroke-width="3.3" />
<path d="M621.5,119.2 C622.1,120.9 624.0,126.4 625.0,129.2 C626.0,132.1 625.5,130.9 627.3,136.2 C629.0,141.6 633.3,153.8 635.5,161.2 C637.7,168.8 638.8,174.6 640.5,181.2 C642.2,187.9 644.3,194.6 645.5,201.2 C646.7,207.9 647.7,213.6 647.8,221.1 C647.9,228.6 646.9,238.7 646.0,246.2 C645.1,253.8 644.2,260.4 642.3,266.2 C640.4,272.1 637.2,276.9 634.8,281.2 C632.4,285.6 630.5,288.5 628.0,292.2 C625.5,296.0 622.9,300.1 619.9,303.6 C616.9,307.1 613.3,310.4 610.0,313.2 C606.7,316.1 603.3,318.7 600.0,321.1 C596.7,323.4 591.7,326.2 590.0,327.2" fill="none" stroke="#000" stroke-width="3.3" />
<path d="M628.5,121.0 C629.1,122.7 631.0,128.2 632.0,131.0 C633.0,133.8 632.5,132.7 634.3,138.0 C636.0,143.3 640.3,155.5 642.5,163.0 C644.7,170.5 645.8,176.3 647.5,183.0 C649.2,189.7 651.3,196.4 652.5,203.0 C653.7,209.6 654.7,215.3 654.8,222.8 C654.9,230.3 653.9,240.5 653.0,248.0 C652.1,255.5 651.2,262.2 649.3,268.0 C647.4,273.8 644.2,278.7 641.8,283.0 C639.4,287.3 637.5,290.3 635.0,294.0 C632.5,297.7 629.9,301.9 626.9,305.4 C623.9,308.9 620.3,312.1 617.0,315.0 C613.7,317.9 610.3,320.5 607.0,322.8 C603.7,325.1 598.7,328.0 597.0,329.0" fill="none" stroke="#000" stroke-width="3.5" />
<path d="M637.5,123.2 C638.1,124.9 640.0,130.4 641.0,133.2 C642.0,136.1 641.5,134.9 643.3,140.2 C645.0,145.6 649.3,157.8 651.5,165.2 C653.7,172.8 654.8,178.6 656.5,185.2 C658.2,191.9 660.3,198.6 661.5,205.2 C662.7,211.9 663.7,217.6 663.8,225.1 C663.9,232.6 662.9,242.7 662.0,250.2 C661.1,257.8 660.2,264.4 658.3,270.2 C656.4,276.1 653.2,280.9 650.8,285.2 C648.4,289.6 646.5,292.5 644.0,296.2 C641.5,300.0 638.9,304.1 635.9,307.6 C632.9,311.1 629.3,314.4 626.0,317.2 C622.7,320.1 619.3,322.7 616.0,325.1 C612.7,327.4 607.7,330.2 606.0,331.2" fill="none" stroke="#000" stroke-width="3.5" />
<path d="M647.5,125.8 C648.1,127.4 650.0,132.9 651.0,135.8 C652.0,138.6 651.5,137.4 653.3,142.8 C655.0,148.1 659.3,160.2 661.5,167.8 C663.7,175.2 664.8,181.1 666.5,187.8 C668.2,194.4 670.3,201.1 671.5,207.8 C672.7,214.4 673.7,220.1 673.8,227.6 C673.9,235.1 672.9,245.2 672.0,252.8 C671.1,260.3 670.2,266.9 668.3,272.8 C666.4,278.6 663.2,283.4 660.8,287.8 C658.4,292.1 656.5,295.0 654.0,298.8 C651.5,302.5 648.9,306.6 645.9,310.1 C642.9,313.6 639.3,316.9 636.0,319.8 C632.7,322.6 629.3,325.2 626.0,327.6 C622.7,329.9 617.7,332.7 616.0,333.8" fill="none" stroke="#000" stroke-width="3.5" />
<path d="M657.5,128.2 C658.1,129.9 660.0,135.4 661.0,138.2 C662.0,141.1 661.5,139.9 663.3,145.2 C665.0,150.6 669.3,162.8 671.5,170.2 C673.7,177.8 674.8,183.6 676.5,190.2 C678.2,196.9 680.3,203.6 681.5,210.2 C682.7,216.9 683.7,222.6 683.8,230.1 C683.9,237.6 682.9,247.7 682.0,255.2 C681.1,262.8 680.2,269.4 678.3,275.2 C676.4,281.1 673.2,285.9 670.8,290.2 C668.4,294.6 666.5,297.5 664.0,301.2 C661.5,305.0 658.9,309.1 655.9,312.6 C652.9,316.1 649.3,319.4 646.0,322.2 C642.7,325.1 639.3,327.7 636.0,330.1 C632.7,332.4 627.7,335.2 626.0,336.2" fill="none" stroke="#000" stroke-width="3.5" />
</g>
<g clip-path="url(#cRibR)">
<path d="M667.5,130.8 C668.1,132.4 670.0,137.9 671.0,140.8 C672.0,143.6 671.5,142.4 673.3,147.8 C675.0,153.1 679.3,165.2 681.5,172.8 C683.7,180.2 684.8,186.1 686.5,192.8 C688.2,199.4 690.3,206.1 691.5,212.8 C692.7,219.4 693.7,225.1 693.8,232.6 C693.9,240.1 692.9,250.2 692.0,257.8 C691.1,265.3 690.2,271.9 688.3,277.8 C686.4,283.6 683.2,288.4 680.8,292.8 C678.4,297.1 676.5,300.0 674.0,303.8 C671.5,307.5 668.9,311.6 665.9,315.1 C662.9,318.6 659.3,321.9 656.0,324.8 C652.7,327.6 649.3,330.2 646.0,332.6 C642.7,334.9 637.7,337.7 636.0,338.8" fill="none" stroke="#000" stroke-width="1.8" />
<path d="M677.5,133.2 C678.1,134.9 680.0,140.4 681.0,143.2 C682.0,146.1 681.5,144.9 683.3,150.2 C685.0,155.6 689.3,167.8 691.5,175.2 C693.7,182.8 694.8,188.6 696.5,195.2 C698.2,201.9 700.3,208.6 701.5,215.2 C702.7,221.9 703.7,227.6 703.8,235.1 C703.9,242.6 702.9,252.7 702.0,260.2 C701.1,267.8 700.2,274.4 698.3,280.2 C696.4,286.1 693.2,290.9 690.8,295.2 C688.4,299.6 686.5,302.5 684.0,306.2 C681.5,310.0 678.9,314.1 675.9,317.6 C672.9,321.1 669.3,324.4 666.0,327.2 C662.7,330.1 659.3,332.7 656.0,335.1 C652.7,337.4 647.7,340.2 646.0,341.2" fill="none" stroke="#000" stroke-width="1.8" />
<path d="M687.5,135.8 C688.1,137.4 690.0,142.9 691.0,145.8 C692.0,148.6 691.5,147.4 693.3,152.8 C695.0,158.1 699.3,170.2 701.5,177.8 C703.7,185.2 704.8,191.1 706.5,197.8 C708.2,204.4 710.3,211.1 711.5,217.8 C712.7,224.4 713.7,230.1 713.8,237.6 C713.9,245.1 712.9,255.2 712.0,262.8 C711.1,270.3 710.2,276.9 708.3,282.8 C706.4,288.6 703.2,293.4 700.8,297.8 C698.4,302.1 696.5,305.0 694.0,308.8 C691.5,312.5 688.9,316.6 685.9,320.1 C682.9,323.6 679.3,326.9 676.0,329.8 C672.7,332.6 669.3,335.2 666.0,337.6 C662.7,339.9 657.7,342.7 656.0,343.8" fill="none" stroke="#000" stroke-width="1.8" />
<path d="M697.5,138.2 C698.1,139.9 700.0,145.4 701.0,148.2 C702.0,151.1 701.5,149.9 703.3,155.2 C705.0,160.6 709.3,172.8 711.5,180.2 C713.7,187.8 714.8,193.6 716.5,200.2 C718.2,206.9 720.3,213.6 721.5,220.2 C722.7,226.9 723.7,232.6 723.8,240.1 C723.9,247.6 722.9,257.7 722.0,265.2 C721.1,272.8 720.2,279.4 718.3,285.2 C716.4,291.1 713.2,295.9 710.8,300.2 C708.4,304.6 706.5,307.5 704.0,311.2 C701.5,315.0 698.9,319.1 695.9,322.6 C692.9,326.1 689.3,329.4 686.0,332.2 C682.7,335.1 679.3,337.7 676.0,340.1 C672.7,342.4 667.7,345.2 666.0,346.2" fill="none" stroke="#000" stroke-width="1.8" />
<path d="M707.5,140.8 C708.1,142.4 710.0,147.9 711.0,150.8 C712.0,153.6 711.5,152.4 713.3,157.8 C715.0,163.1 719.3,175.2 721.5,182.8 C723.7,190.2 724.8,196.1 726.5,202.8 C728.2,209.4 730.3,216.1 731.5,222.8 C732.7,229.4 733.7,235.1 733.8,242.6 C733.9,250.1 732.9,260.2 732.0,267.8 C731.1,275.3 730.2,281.9 728.3,287.8 C726.4,293.6 723.2,298.4 720.8,302.8 C718.4,307.1 716.5,310.0 714.0,313.8 C711.5,317.5 708.9,321.6 705.9,325.1 C702.9,328.6 699.3,331.9 696.0,334.8 C692.7,337.6 689.3,340.2 686.0,342.6 C682.7,344.9 677.7,347.7 676.0,348.8" fill="none" stroke="#000" stroke-width="1.8" />
</g>
<path d="M576,265.4 L680,287.6" fill="none" stroke="#000" stroke-width="3.2" />
<path d="M590,265 L617,242.6 L642,246.5" fill="none" stroke="#000" stroke-width="1.1" />
<path d="M485,131.2 L589.8,158.8 Q620,161.5 642.5,153.5" fill="none" stroke="#000" stroke-width="2.3" />
<path d="M540.5,216.5 Q552,214 564.5,214.5 Q566,219 561,222.5 L543.5,232.5 Z" fill="#000" stroke="none" />
<ellipse cx="586" cy="210.3" rx="9.3" ry="5.4" fill="#000" stroke="none" stroke-width="0" transform="rotate(6 586 210.3)"/>
<path d="M402.5,78.5 L418.5,71 Q421.5,69.5 426,70.3 L479.5,82.2 L497,80 Q503.5,78.3 506.5,81.5 Q508.5,85.5 504.5,89.5 L512,92 L537,84 Q544,82.6 547.5,86.3 Q549,90.5 544,94 L538,98.5 Q548,102.5 566,104.5 L590,103.5 L611.5,99 Q617,100 619.5,105.5 Q626,104.5 631,108 Q633.5,112 630.5,115.3 L677.5,126.8 L698,124.5 Q705,124 706,129 Q706,134 700.5,136 L688,142 L678,141.5 L620,129.8 L603,126 L590,118.5 L576,114.5 L556,113 Q546,110.5 536,109.5 L520,113 L509,108.3 L479.5,95.5 L452,89 L425,83.5 L403,82 Z" fill="#000" stroke="none" />
<path d="M408,77.5 L417,74.5 M414,80.5 L423,82" fill="none" stroke="#fff" stroke-width="1.6" />
<path d="M431,78 L476,87.5" fill="none" stroke="#fff" stroke-width="1.1" stroke-dasharray="4 5 2 6"/>
<path d="M482,89.5 L500,87 M514,99 L530,95" fill="none" stroke="#fff" stroke-width="1.0" stroke-dasharray="3 4"/>
<path d="M521,96 L526,94.5 M533,103.5 L545,105.5" fill="none" stroke="#fff" stroke-width="1.8" />
<path d="M604,106.5 L612,104.5 M591,109.5 L598,108" fill="none" stroke="#fff" stroke-width="2.2" />
<path d="M424.8,88.4 L509.5,109.8" fill="none" stroke="#000" stroke-width="2.2" />
<path d="M554,112 L568,114 L568.5,130.5 L564,130.5 L560,122 Z" fill="#000" stroke="none" />
<path d="M402.5,79 Q397,110 394.8,134.6 Q392,165 392.8,200 Q393.5,235 397,255 Q401,268 413,281.5 Q427,294 446,297.5" fill="none" stroke="#000" stroke-width="3.4" />
<path d="M394,150 Q392.6,175 393.2,200 Q394,235 397.5,255 Q401.5,268 413.5,281 Q427,293 444,296.5" fill="none" stroke="#000" stroke-width="4.8" />
<path d="M405.5,95 Q400.5,125 399.5,165 Q399,205 401,235 Q404,258 415,273 Q428,288 447,292" fill="none" stroke="#000" stroke-width="1.8" />
<path d="M403.5,170 Q403.5,215 406,245 Q410,262 420,272" fill="none" stroke="#000" stroke-width="1.0" />
<path d="M414.8,81.5 L415.5,128.5" fill="none" stroke="#000" stroke-width="1.8" />
<path d="M424.3,82 L424.6,127" fill="none" stroke="#000" stroke-width="3.4" />
<path d="M452.1,88.5 L452.1,115.3 L466,112.8" fill="none" stroke="#000" stroke-width="1.7" />
<path d="M398,134.8 L463.5,118.6" fill="none" stroke="#000" stroke-width="2.0" />
<path d="M413,137 L461,126.6" fill="none" stroke="#000" stroke-width="2.0" />
<path d="M399,137.5 L414,137 M398,146 L412,146.5" fill="none" stroke="#000" stroke-width="2.0" />
<path d="M463.5,112.8 L478,112.5 L497,117 L509,111.5 L516.5,110 L521,112 L511,119.5 L507,126.5 L498,129.5 L484,127.5 L470,124.5 L462.5,120.5 Z" fill="#000" stroke="none" />
<path d="M476,121 L490,126 Q498,134 506,135" fill="none" stroke="#000" stroke-width="1.6" />
<path d="M462,122 L463.2,186 M468.4,124 L469.6,186" fill="none" stroke="#000" stroke-width="2.5" />
<path d="M465.8,222 L468,290 M471.5,222 L473.2,289" fill="none" stroke="#000" stroke-width="2.5" />
<path d="M501,129.8 L473.5,196 M506,129.5 L478,197" fill="none" stroke="#000" stroke-width="2.0" />
<path d="M458,194 L426.5,155 L419,145 L413,138.5" fill="none" stroke="#000" stroke-width="3.4" />
<path d="M461,193 L430,152.5 L421,141" fill="none" stroke="#000" stroke-width="1.6" />
<path d="M419,145 Q421,155 421.5,163" fill="none" stroke="#000" stroke-width="1.4" />
<path d="M455,210.5 L425,219.5 L402,222" fill="none" stroke="#000" stroke-width="4.0" />
<path d="M455.5,215 L427,223.5" fill="none" stroke="#000" stroke-width="1.6" />
<ellipse cx="408" cy="224.5" rx="4.6" ry="3.8" fill="#000" stroke="none" stroke-width="0"/>
<ellipse cx="410" cy="230" rx="3" ry="2.4" fill="#000" stroke="none" stroke-width="0"/>
<path d="M456,226 L432,259.5 L427,261.5 M459.5,229 L436.5,262" fill="none" stroke="#000" stroke-width="2.0" />
<ellipse cx="455.5" cy="226.8" rx="5.2" ry="5.6" fill="#000" stroke="none" stroke-width="0"/>
<path d="M478,204 L529.5,199.8" fill="none" stroke="#000" stroke-width="4.6" />
<path d="M479.5,211 L506.5,219.8" fill="none" stroke="#000" stroke-width="3.6" />
<path d="M476.5,218.5 L503,241.5" fill="none" stroke="#000" stroke-width="4.2" />
<path d="M508,199.6 L521.5,201 L519,222 L514.5,242 L501.5,238.5 L505,220 Z" fill="#000" stroke="none" />
<path d="M515,240.5 L524,243.5 M521.5,213 l4,0.6 l-0.6,5 l-4,-0.6z M519.5,226 l3.6,0.6 l-0.5,4 l-3.6,-0.6z" fill="none" stroke="#000" stroke-width="1.4" />
<ellipse cx="462.5" cy="189.5" rx="6.6" ry="6.4" fill="#000" stroke="none" stroke-width="0"/>
<ellipse cx="466.3" cy="208.5" rx="10.6" ry="13.6" fill="#fff" stroke="#000" stroke-width="4.8" transform="rotate(8 466.3 208.5)"/>
<ellipse cx="467.4" cy="208.5" rx="3.4" ry="7.6" fill="#fff" stroke="#000" stroke-width="3.2" transform="rotate(14 467.4 208.5)"/>
<path d="M424.0,139.0 C423.6,142.8 422.2,150.6 421.5,161.6 C420.8,172.6 419.5,191.5 419.8,204.8 C420.1,218.1 421.4,231.8 423.1,241.2 C424.8,250.6 427.3,255.2 429.8,261.0 C432.3,266.8 436.6,273.5 438.0,276.0" fill="none" stroke="#000" stroke-width="1.4" />
<path d="M505.0,124.0 C505.7,124.7 506.7,124.6 509.4,128.0 C512.1,131.4 517.7,138.4 521.0,144.6 C524.3,150.8 527.5,156.3 529.3,165.0 C531.1,173.7 531.7,186.6 531.7,196.5 C531.7,206.4 531.1,216.1 529.3,224.7 C527.5,233.3 524.5,240.7 521.0,247.9 C517.5,255.1 513.2,262.1 508.0,268.0 C502.8,273.9 496.3,278.9 490.0,283.0 C483.7,287.1 473.3,290.9 470.0,292.5" fill="none" stroke="#000" stroke-width="2.0" />
<path d="M521.0,247.9 C518.8,251.2 513.2,262.1 508.0,268.0 C502.8,273.9 496.3,278.9 490.0,283.0 C483.7,287.1 473.3,290.9 470.0,292.5" fill="none" stroke="#000" stroke-width="2.8" />
<path d="M426.5,260 L419.8,275.5 M429.5,256 L437,273 M420,275.5 L441,268" fill="none" stroke="#000" stroke-width="1.6" />
<path d="M424.5,281.5 Q436,276 448.5,278.5 L450.5,284 L444,288 L428,286.5 Z" fill="#000" stroke="none" />
<ellipse cx="402" cy="245" rx="3.4" ry="2.6" fill="#000" stroke="none" stroke-width="0"/>
<ellipse cx="404" cy="251" rx="2.6" ry="2" fill="#000" stroke="none" stroke-width="0"/>
<path d="M497.5,253.5 L540,260 L536,272" fill="none" stroke="#000" stroke-width="1.8" />
<path d="M497.5,253.5 L489,273 L486,283" fill="none" stroke="#000" stroke-width="1.8" />
<path d="M505,262 L520,258.5 L538,262.5 L536.5,272 L529,281 L512,285.5 L497,287.5 L490,281 L500,271 Z" fill="#000" stroke="none" />
<path d="M504,275.5 L522,268.5 L527,271 L510,280 Z" fill="#fff" stroke="#fff" stroke-width="0.6" />
<path d="M524,262.5 L531,264 M527,277 L532,270" fill="none" stroke="#fff" stroke-width="1.4" />
<path d="M486,283 L496.5,257 L481,289" fill="none" stroke="#000" stroke-width="1.4" />
<path d="M446,296.5 L470,293.5 L497,297" fill="none" stroke="#000" stroke-width="4.0" />
<path d="M488,295 L530,304.5 L570.5,314 L620,324.5 L661,333 L686,340.5" fill="none" stroke="#000" stroke-width="9.0" stroke-linecap="butt"/>
<path d="M458,299.5 L480,301.5 L530,313 L570.5,322.5 L620,333 L661,341.5 L682,348.5" fill="none" stroke="#000" stroke-width="3.2" />
<path d="M636.0,140.0 C637.0,144.2 640.2,156.4 642.0,165.0 C643.8,173.6 646.0,183.3 647.0,191.6 C648.0,199.9 648.2,206.7 648.3,215.0 C648.3,223.3 647.5,233.0 647.3,241.3 C647.1,249.6 646.6,255.5 647.0,265.0 C647.4,274.5 648.3,289.4 649.6,298.2 C650.9,307.0 652.8,312.5 655.0,318.0 C657.2,323.5 660.1,327.3 662.9,331.3 C665.7,335.3 669.1,339.2 672.0,342.0 C674.9,344.8 678.7,347.0 680.0,348.0" fill="none" stroke="#000" stroke-width="7.6" />
<path d="M655.0,185.0 C655.4,190.0 657.2,205.0 657.5,215.0 C657.8,225.0 656.4,235.0 656.5,245.0 C656.6,255.0 656.9,265.0 658.0,275.0 C659.1,285.0 660.7,296.3 663.0,305.0 C665.3,313.7 670.5,323.3 672.0,327.0" fill="none" stroke="#000" stroke-width="1.3" />
<path d="M727.0,176.0 C729.6,178.6 738.8,186.8 742.5,191.6 C746.2,196.4 747.4,200.8 749.0,205.0 C750.6,209.2 751.2,210.4 752.4,216.5 C753.6,222.6 755.5,232.7 756.0,241.3 C756.5,249.9 756.4,261.1 755.7,267.9 C755.0,274.7 753.6,277.5 752.0,282.0 C750.4,286.5 748.1,291.1 745.8,294.9 C743.5,298.7 739.3,303.3 738.0,305.0" fill="none" stroke="#000" stroke-width="3.8" />
<path d="M724.0,183.0 C726.2,185.0 733.2,189.3 737.0,195.0 C740.8,200.7 744.2,209.2 746.5,217.0 C748.8,224.8 749.9,233.5 750.5,242.0 C751.1,250.5 751.4,259.7 750.0,268.0 C748.6,276.3 743.3,288.0 742.0,292.0" fill="none" stroke="#000" stroke-width="1.4" />
<path d="M756.5,240 L757.5,262 M753.5,246 L754.5,262" fill="none" stroke="#000" stroke-width="1.6" />
<path d="M672,340.5 L684,339.5 L698,343 L726,338.5 L733,342.5 L729,349.5 L698,355.5 Q688,355.5 676,350 Z" fill="#000" stroke="none" />
<path d="M690,349 L722,345" fill="none" stroke="#fff" stroke-width="1.0" stroke-dasharray="4 3"/>
<path d="M701.5,137.5 L706,138 L706,156.5 L701.5,157 Z" fill="none" stroke="#000" stroke-width="1.4" />
<path d="M684,159.5 L708,156.5 L730,154.5 L755,150 Q761,150 762.5,154.5 Q763,159.5 758,162 L743,168 L748.5,177 L746,180 L737,173 L722,176 L700,177.5 L686,175.5 Z" fill="#000" stroke="none" />
<path d="M741,166 L756,159.5" fill="none" stroke="#fff" stroke-width="0.8" />
<path d="M632,134 L652,139 L654,166 L647,176 L640,166 Z" fill="#000" stroke="none" />
<path d="M673.5,139 L684,141 L685.5,170 L676.5,169 Z" fill="#000" stroke="none" />
<path d="M652,143.5 L676,148.5 M653,153 L676,158 M654,162.5 L677,167" fill="none" stroke="#000" stroke-width="3.4" />
<path d="M659,142 L664,186 M667,144 L672,184" fill="none" stroke="#000" stroke-width="3.6" />
<path d="M646,174 L690,182 M652,186 L694,173" fill="none" stroke="#000" stroke-width="3.6" />
<path d="M686,146 L701,158" fill="none" stroke="#000" stroke-width="4.2" />
<path d="M689,176 L691,232 M697,178 L698.5,230 M705,178 L705.5,228" fill="none" stroke="#000" stroke-width="3.2" />
<path d="M690,189 L724,183 M691,201 L718,196" fill="none" stroke="#000" stroke-width="3.6" />
<path d="M707,186 L716,218 L729,186 M713,186 L720,212" fill="none" stroke="#000" stroke-width="3.8" />
<path d="M716,218 Q712,224 704,224" fill="none" stroke="#000" stroke-width="2.2" />
<path d="M689.5,230 L708,223.5 L728,223 L741,219.5 L744.5,224 L743,232 L736,234.5 L726,240 L712,241.5 L697,240.5 L690,243 Z" fill="#000" stroke="none" />
<path d="M731.5,253 L752.5,252 L753.5,284 L742,292 L737,291 L734,272 Z" fill="#000" stroke="none" />
<path d="M738,260 l5,-0.8 l0.6,5 l-5,0.8z" fill="#fff" stroke="#fff" stroke-width="0.9" />
<path d="M711,252.5 L762,251" fill="none" stroke="#000" stroke-width="3.6" />
<path d="M712,259 L733,266" fill="none" stroke="#000" stroke-width="2.8" />
<path d="M706,265 L736,290.5" fill="none" stroke="#000" stroke-width="5.0" />
<path d="M741,282 L748,283.5 M736,293.5 L744,296.5" fill="none" stroke="#000" stroke-width="2.4" />
<path d="M694,238 L711,240.5 L713.5,256 L709,269 L696,267.5 L691.5,252 Z" fill="#000" stroke="none" />
<path d="M679,224 L692,222 L696,236 L690,246 L683,240 Z" fill="#000" stroke="none" />
<ellipse cx="695.5" cy="258" rx="3.4" ry="5.6" fill="#fff" stroke="#000" stroke-width="1.2" transform="rotate(10 695.5 258)"/>
<path d="M656.5,199.5 L694,247" fill="none" stroke="#000" stroke-width="4.8" />
<path d="M662,213 L690,250" fill="none" stroke="#000" stroke-width="1.4" />
<path d="M656.5,271.5 L692.5,261.5" fill="none" stroke="#000" stroke-width="2.4" />
<ellipse cx="683" cy="278" rx="4.4" ry="4.8" fill="#000" stroke="none" stroke-width="0"/>
<ellipse cx="683" cy="278" rx="1.5" ry="1.7" fill="#fff" stroke="#000" stroke-width="0.8"/>
<path d="M696.5,266 L701.5,340 M699.5,266 L704.5,340" fill="none" stroke="#000" stroke-width="1.6" />
<path d="M683,281 L664,320" fill="none" stroke="#000" stroke-width="1.6" />
<ellipse cx="750.5" cy="316.5" rx="4.8" ry="5.4" fill="#fff" stroke="#000" stroke-width="7.4"/>
<path d="M726,306 L732,304 L734.5,310 L741,309.5 L742,313 L729.5,320 L722,322.5 L708,325.5 L707.5,322 L722,317.5 L727.5,313 Z" fill="#000" stroke="none" />
<path d="M742,321 L713,343 M735.5,319.5 L708,341" fill="none" stroke="#000" stroke-width="3.2" />
<path d="M722,311 L731,305 L744,309 L746,322 L736,326 L724,322 Z" fill="#000" stroke="none" />
<path d="M729,314 l5,2" fill="none" stroke="#fff" stroke-width="1.2" />
<path d="M738,330 L727,347" fill="none" stroke="#000" stroke-width="2.2" />
<path d="M731,296 L724,312" fill="none" stroke="#000" stroke-width="2.6" />
<path d="M723,288 l10,2" fill="none" stroke="#000" stroke-width="2.2" />
<line x1="611.5" y1="99" x2="651.5" y2="77.5" stroke="#000" stroke-width="1.0" />
</g>
<g id="p_labels">
<text transform="translate(337.5 56.0) scale(0.94 1)" class="t" font-size="21.2">9</text>
<text transform="translate(336.5 109.0) scale(0.94 1)" class="t" font-size="21.2">6</text>
<text transform="translate(372.5 130.0) scale(0.94 1)" class="t" font-size="21.2">7</text>
<text transform="translate(659 80.0) scale(0.94 1)" class="t" font-size="21.2">8</text>
<text transform="translate(23 221.0) scale(0.94 1)" class="t" font-size="21.2">1</text>
<text transform="translate(31 272.0) scale(0.94 1)" class="t" font-size="21.2">11</text>
<text transform="translate(196.5 261.0) scale(0.94 1)" class="t" font-size="21.2">15</text>
<text transform="translate(313 270.0) scale(0.94 1)" class="t" font-size="21.2">13</text>
<text transform="translate(253 306.0) scale(0.94 1)" class="t" font-size="21.2">14</text>
<text transform="translate(359.5 327.0) scale(0.94 1)" class="t" font-size="21.2">12</text>
<text transform="translate(128.5 428.0) scale(0.94 1)" class="t" font-size="21.2">16</text>
<text transform="translate(408 406.0) scale(0.94 1)" class="t" font-size="21.2">11</text>
<text transform="translate(710 406.0) scale(0.94 1)" class="t" font-size="21.2">10</text>
<text transform="translate(786 222.0) scale(0.94 1)" class="t" font-size="21.2">7</text>
<text transform="translate(826 216.0) scale(0.94 1)" class="t" font-size="21.2">6</text>
<text transform="translate(920.5 201.5) scale(0.94 1)" class="t" font-size="21.2">5</text>
<text transform="translate(1047 151.0) scale(0.94 1)" class="t" font-size="21.2">3</text>
<text transform="translate(1148.5 164.0) scale(0.94 1)" class="t" font-size="21.2">2</text>
<text transform="translate(1007 290.5) scale(0.94 1)" class="t" font-size="21.2">4</text>
<text transform="translate(1142 480.0) scale(0.94 1)" class="t" font-size="21.2">1</text>
<text transform="translate(302 521.5) scale(0.94 1)" class="t" font-size="21.2">20</text>
<text transform="translate(415 505.5) scale(0.94 1)" class="t" font-size="21.2">19</text>
<text transform="translate(483 543.5) scale(0.94 1)" class="t" font-size="21.2">18</text>
<text transform="translate(230 610.5) scale(0.94 1)" class="t" font-size="21.2">17</text>
<text transform="translate(542 565.5) scale(0.94 1)" class="t" font-size="21.2">17</text>
</g>
</svg>
</body></html>
